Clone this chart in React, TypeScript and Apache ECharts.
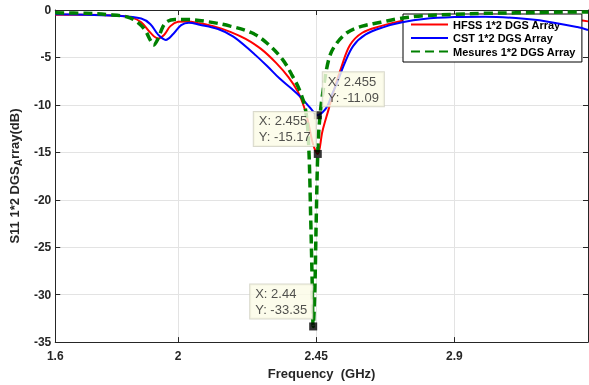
import React, { useEffect, useRef } from "react";
import * as echarts from "echarts";

const xTicks = [1.6, 2, 2.45, 2.9];
const yTicks = [0, -5, -10, -15, -20, -25, -30, -35];

const hfssFreq = [1.6, 1.7, 1.8, 1.85, 1.88, 1.91, 1.935, 1.955, 1.975, 2.0, 2.03, 2.07, 2.12, 2.17, 2.22, 2.27, 2.32, 2.36, 2.39, 2.41, 2.425, 2.44, 2.455, 2.47, 2.49, 2.51, 2.53, 2.56, 2.6, 2.66, 2.72, 2.8, 2.9, 3.0, 3.1, 3.2, 3.3, 3.335];
const hfssS11 = [-0.5, -0.5, -0.6, -0.8, -1.3, -2.4, -3.0, -2.6, -1.7, -1.25, -1.2, -1.4, -1.75, -2.3, -3.05, -4.1, -5.6, -7.1, -8.6, -10.2, -12.0, -14.2, -15.17, -12.8, -10.5, -8.2, -6.2, -3.7, -2.4, -1.7, -1.2, -0.85, -0.6, -0.5, -0.55, -0.75, -1.05, -1.2];

const cstFreq = [1.6, 1.7, 1.8, 1.88, 1.91, 1.935, 1.96, 1.985, 2.01, 2.035, 2.07, 2.13, 2.18, 2.24, 2.29, 2.33, 2.37, 2.4, 2.43, 2.455, 2.47, 2.485, 2.5, 2.52, 2.54, 2.57, 2.61, 2.67, 2.73, 2.8, 2.9, 3.0, 3.1, 3.2, 3.3, 3.335];
const cstS11 = [-0.45, -0.5, -0.6, -0.9, -1.5, -2.6, -3.15, -2.5, -1.6, -1.35, -1.55, -2.0, -2.8, -4.4, -5.9, -7.2, -8.3, -9.2, -10.3, -11.09, -10.8, -10.2, -9.0, -7.5, -5.8, -3.8, -2.6, -1.8, -1.3, -0.95, -0.75, -0.7, -0.85, -1.2, -1.8, -2.1];

const mesFreq = [1.6, 1.7, 1.78, 1.83, 1.86, 1.89, 1.91, 1.92, 1.935, 1.95, 1.965, 1.99, 2.03, 2.1, 2.17, 2.24, 2.29, 2.34, 2.37, 2.395, 2.415, 2.425, 2.432, 2.437, 2.44, 2.445, 2.45, 2.455, 2.46, 2.47, 2.49, 2.51, 2.55, 2.6, 2.66, 2.72, 2.8, 2.9, 3.0, 3.1, 3.2, 3.3, 3.335];
const mesS11 = [-0.3, -0.35, -0.5, -0.7, -1.1, -2.0, -3.2, -3.7, -3.0, -1.8, -1.2, -1.0, -1.0, -1.25, -1.7, -2.4, -3.5, -5.2, -6.8, -8.4, -10.5, -14, -22, -29, -33.35, -30, -22, -15, -12, -9, -5.3, -3.8, -2.4, -1.7, -1.3, -0.9, -0.6, -0.45, -0.35, -0.3, -0.25, -0.2, -0.2];

const tipX = [2.455, 2.455, 2.44];
const tipY = [-11.09, -15.17, -33.35];
const tipOffsets = [[9, -39], [-60, -38], [-59, -38]];

const seriesNames = ["HFSS 1*2 DGS Array", "CST 1*2 DGS Array", "Mesures 1*2 DGS Array"];

const zip = (a: number[], b: number[]) => a.map((v, i) => [v, b[i]]);

export default function App() {
  const ref = useRef<HTMLDivElement>(null);
  useEffect(() => {
    if (!ref.current) return;
    const chart = echarts.init(ref.current, null, { renderer: "svg" });
    const font = "'Liberation Sans', Arial, Helvetica, sans-serif";
    const axisColor = "#262626";
    chart.setOption({
      animation: false,
      textStyle: { fontFamily: font },
      grid: { left: 54, right: 1, top: 10, bottom: 42, containLabel: false },
      legend: {
        orient: "vertical",
        left: 403,
        top: 14,
        data: seriesNames,
        padding: [5, 6, 5, 7],
        itemGap: 2.5,
        itemWidth: 37,
        itemHeight: 12,
        backgroundColor: "#fff",
        borderColor: "#000",
        borderWidth: 1,
        borderRadius: 0,
        itemStyle: { opacity: 0 },
        textStyle: { fontFamily: font, fontWeight: "bold", fontSize: 11, color: "#000" },
      },
      xAxis: [
        {
          type: "value",
          min: 1.6,
          max: 3.335,
          name: "Frequency  (GHz)",
          nameLocation: "middle",
          nameGap: 24,
          nameTextStyle: { fontFamily: font, fontWeight: "bold", fontSize: 13, color: axisColor },
          axisLine: { show: true, onZero: false, lineStyle: { color: axisColor, width: 1 } },
          axisTick: { show: true, inside: true, length: 5, customValues: xTicks, lineStyle: { color: axisColor } },
          axisLabel: { customValues: xTicks, margin: 8, fontFamily: font, fontWeight: "bold", fontSize: 12, color: axisColor, formatter: (v: number) => String(v) },
          splitLine: { show: true, lineStyle: { color: "#e3e3e3", width: 1 } },
        },
        {
          type: "value",
          position: "top",
          min: 1.6,
          max: 3.335,
          axisLine: { show: true, onZero: false, lineStyle: { color: axisColor, width: 1 } },
          axisTick: { show: true, inside: true, length: 5, customValues: xTicks, lineStyle: { color: axisColor } },
          axisLabel: { show: false, customValues: xTicks },
          splitLine: { show: false },
        },
      ],
      yAxis: [
        {
          type: "value",
          min: -35,
          max: 0,
          interval: 5,
          name: "S11 1*2 DGS{sub|A}rray(dB)",
          nameLocation: "middle",
          nameGap: 32,
          nameRotate: 90,
          nameTextStyle: {
            fontFamily: font,
            fontWeight: "bold",
            fontSize: 13,
            color: axisColor,
            rich: {
              sub: { fontFamily: font, fontWeight: "bold", fontSize: 10, color: axisColor, padding: [7, 0, 0, 0] },
            },
          },
          axisLine: { show: true, onZero: false, lineStyle: { color: axisColor, width: 1 } },
          axisTick: { show: true, inside: true, length: 5, lineStyle: { color: axisColor } },
          axisLabel: { margin: 4, fontFamily: font, fontWeight: "bold", fontSize: 12, color: axisColor, customValues: yTicks },
          splitLine: { show: true, lineStyle: { color: "#e3e3e3", width: 1 } },
        },
        {
          type: "value",
          position: "right",
          min: -35,
          max: 0,
          interval: 5,
          axisLine: { show: true, onZero: false, lineStyle: { color: axisColor, width: 1 } },
          axisTick: { show: true, inside: true, length: 5, lineStyle: { color: axisColor } },
          axisLabel: { show: false },
          splitLine: { show: false },
        },
      ],
      series: [
        {
          name: seriesNames[0],
          type: "line",
          data: zip(hfssFreq, hfssS11),
          symbol: "none",
          smooth: 0.35,
          lineStyle: { color: "#ff0000", width: 2 },
          itemStyle: { color: "#ff0000" },
          z: 3,
        },
        {
          name: seriesNames[1],
          type: "line",
          data: zip(cstFreq, cstS11),
          symbol: "none",
          smooth: 0.35,
          lineStyle: { color: "#0000ff", width: 2 },
          itemStyle: { color: "#0000ff" },
          z: 4,
        },
        {
          name: seriesNames[2],
          type: "line",
          data: zip(mesFreq, mesS11),
          symbol: "none",
          smooth: 0.35,
          lineStyle: { color: "#008000", width: 3.5, type: [9, 5] },
          itemStyle: { color: "#008000" },
          z: 5,
        },
        {
          name: "tips",
          type: "scatter",
          symbol: "rect",
          symbolSize: 8,
          itemStyle: { color: "#000" },
          z: 10,
          data: tipX.map((x, i) => ({
            value: [x, tipY[i]],
            label: {
              show: true,
              position: tipOffsets[i],
              formatter: `X: ${x}\nY: ${tipY[i]}`,
              fontFamily: font,
              fontSize: 13,
              lineHeight: 16,
              color: "#262626",
              backgroundColor: "#fbfbe6",
              borderColor: "#cfcfbf",
              borderWidth: 1,
              padding: [1, 5, 1, 5],
              align: "left",
              verticalAlign: "top",
            },
          })),
        },
      ],
    });
    return () => chart.dispose();
  }, []);
  return (
    <div
      ref={ref}
      style={{ position: "fixed", left: 0, top: 0, width: 589, height: 385 }}
    />
  );
}
